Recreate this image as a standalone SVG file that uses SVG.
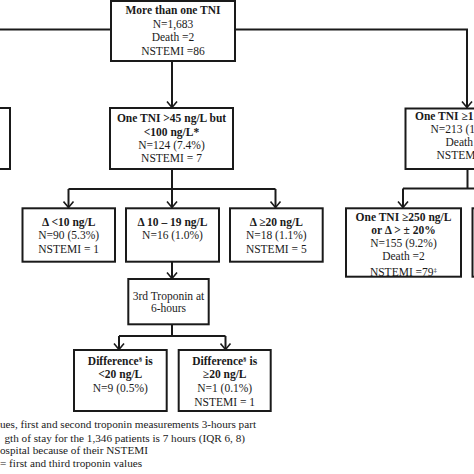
<svg xmlns="http://www.w3.org/2000/svg" width="474" height="474" viewBox="0 0 474 474">
<style>
.box{fill:#fff;stroke:#1a1a1a;stroke-width:2}
.ln{fill:none;stroke:#1a1a1a;stroke-width:2}
text{font-family:"Liberation Serif","Times New Roman",serif;font-size:11.5px;fill:#1a1a1a}
.c{text-anchor:middle}
.b{font-weight:bold}
.fn{font-size:11.2px}
</style>
<defs>
<marker id="ah" viewBox="-8 -6 10 12" refX="0" refY="0" markerWidth="10" markerHeight="12" markerUnits="userSpaceOnUse" orient="auto">
<path d="M-6,-5 L0,0 L-6,5" fill="none" stroke="#1a1a1a" stroke-width="1.6"/>
</marker>
</defs>
<rect width="474" height="474" fill="#fff"/>
<g id="connectors">
<path class="ln" d="M111,29.5 H-2"/>
<path class="ln" d="M235,29.5 H467 V107.5" marker-end="url(#ah)"/>
<path class="ln" d="M172,61 V107.5" marker-end="url(#ah)"/>
<path class="ln" d="M172,169 V207.5" marker-end="url(#ah)"/>
<path class="ln" d="M68.5,189 H275.5"/>
<path class="ln" d="M68.5,189 V207.5" marker-end="url(#ah)"/>
<path class="ln" d="M275.5,189 V207.5" marker-end="url(#ah)"/>
<path class="ln" d="M172,261.7 V278.5" marker-end="url(#ah)"/>
<path class="ln" d="M172,324.3 V336"/>
<path class="ln" d="M119,336 H225.5"/>
<path class="ln" d="M119,336 V349.5" marker-end="url(#ah)"/>
<path class="ln" d="M225.5,336 V349.5" marker-end="url(#ah)"/>
<path class="ln" d="M467.5,169 V188.5"/>
<path class="ln" d="M403,188.5 H476"/>
<path class="ln" d="M403,188.5 V207.5" marker-end="url(#ah)"/>
</g>
<g id="n-top">
<rect class="box" x="111" y="1" width="124" height="60"/>
<text class="c b" x="173" y="14">More than one TNI</text>
<text class="c" x="173" y="27.5">N=1,683</text>
<text class="c" x="173" y="41">Death =2</text>
<text class="c" x="173" y="54.5">NSTEMI =86</text>
</g>
<g id="n-left">
<rect class="box" x="-10" y="108" width="20" height="61"/>
</g>
<g id="n-mid">
<rect class="box" x="110" y="108" width="123" height="61"/>
<text class="c b" x="171.5" y="122">One TNI &gt;45 ng/L but</text>
<text class="c b" x="171.5" y="135.5">&lt;100 ng/L*</text>
<text class="c" x="171.5" y="149">N=124 (7.4%)</text>
<text class="c" x="171.5" y="162">NSTEMI = 7</text>
</g>
<g id="n-right">
<rect class="box" x="405.5" y="108.5" width="80" height="60.5"/>
<text class="b" x="415" y="120">One TNI ≥1</text>
<text x="430.5" y="133">N=213 (1</text>
<text x="445.5" y="146">Death</text>
<text x="436.5" y="159">NSTEM</text>
</g>
<g id="n-d10">
<rect class="box" x="22.5" y="208.3" width="92.5" height="53.4"/>
<text class="c b" x="68.7" y="226">Δ &lt;10 ng/L</text>
<text class="c" x="68.7" y="239.3">N=90 (5.3%)</text>
<text class="c" x="68.7" y="253.3">NSTEMI = 1</text>
</g>
<g id="n-d1019">
<rect class="box" x="126" y="208.3" width="93" height="53.4"/>
<text class="c b" x="172.5" y="226">Δ 10 – 19 ng/L</text>
<text class="c" x="172.5" y="239.3">N=16 (1.0%)</text>
</g>
<g id="n-d20">
<rect class="box" x="230" y="208.3" width="92.7" height="53.4"/>
<text class="c b" x="276.3" y="226">Δ ≥20 ng/L</text>
<text class="c" x="276.3" y="239.3">N=18 (1.1%)</text>
<text class="c" x="276.3" y="253.3">NSTEMI = 5</text>
</g>
<g id="n-250">
<rect class="box" x="346" y="208.3" width="115" height="68.4"/>
<text class="c b" x="403.5" y="220.5">One TNI ≥250 ng/L</text>
<text class="c b" x="403.5" y="233.5">or Δ &gt; ± 20%</text>
<text class="c" x="403.5" y="246.7">N=155 (9.2%)</text>
<text class="c" x="403.5" y="260">Death =2</text>
<text class="c" x="403.5" y="276">NSTEMI =79<tspan font-size="7" dy="-4">‡</tspan></text>
</g>
<g id="n-farright">
<rect class="box" x="472.5" y="208.3" width="40" height="68.4"/>
</g>
<g id="n-third">
<rect class="box" x="128.3" y="279" width="80.4" height="45.3"/>
<text class="c" x="168.5" y="299.5">3rd Troponin at</text>
<text class="c" x="168.5" y="312.3">6-hours</text>
</g>
<g id="n-diffl">
<rect class="box" x="74" y="350" width="92.7" height="61"/>
<text class="c b" x="120.3" y="365">Difference<tspan font-size="7" dy="-4">§</tspan><tspan dy="4"> is</tspan></text>
<text class="c b" x="120.3" y="378.3">&lt;20 ng/L</text>
<text class="c" x="120.3" y="392.3">N=9 (0.5%)</text>
</g>
<g id="n-diffr">
<rect class="box" x="178.7" y="350" width="92" height="61"/>
<text class="c b" x="224.7" y="365">Difference<tspan font-size="7" dy="-4">§</tspan><tspan dy="4"> is</tspan></text>
<text class="c b" x="224.7" y="378.3">≥20 ng/L</text>
<text class="c" x="224.7" y="392.3">N=1 (0.1%)</text>
<text class="c" x="224.7" y="406">NSTEMI = 1</text>
</g>
<g id="footnotes">
<text class="fn" x="0" y="428.3">ues, first and second troponin measurements 3-hours part</text>
<text class="fn" x="4.5" y="441.7">gth of stay for the 1,346 patients is 7 hours (IQR 6, 8)</text>
<text class="fn" x="0" y="454">ospital because of their NSTEMI</text>
<text class="fn" x="0" y="467">= first and third troponin values</text>
</g>
</svg>
